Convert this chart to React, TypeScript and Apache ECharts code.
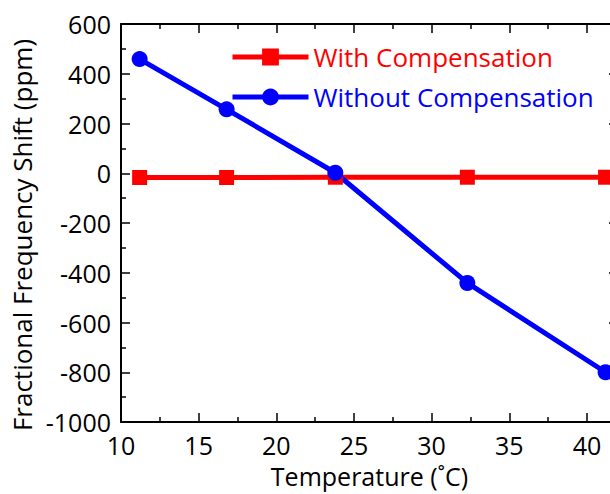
import React, { useEffect, useRef } from "react";
import * as echarts from "echarts";

const temperatures = [11.2, 16.8, 23.8, 32.3, 41.2];
const withCompensation = [-17, -17, -16, -16, -16];
const withoutCompensation = [459, 257, 2, -441, -800];
const seriesNames = ["With Compensation", "Without Compensation"];
const xAxisTitle = "Temperature (˚C)";
const yAxisTitle = "Fractional Frequency Shift (ppm)";

const FONT = "'Open Sans', 'Noto Sans', sans-serif";

export default function App() {
  const ref = useRef<HTMLDivElement>(null);
  useEffect(() => {
    document.body.style.margin = "0";
    if (!ref.current) return;
    const chart = echarts.init(ref.current, null, { renderer: "svg" });
    const axisCommon = {
      axisLine: { show: true, onZero: false, lineStyle: { color: "#000", width: 2 } },
      axisTick: { show: true, inside: true, length: 9, lineStyle: { color: "#000", width: 1.5 } },
      minorTick: { show: true, splitNumber: 2, length: 5, lineStyle: { color: "#000", width: 1.5 } },
      splitLine: { show: false },
    };
    chart.setOption({
      animation: false,
      backgroundColor: "#fff",
      textStyle: { fontFamily: FONT },
      grid: { left: 121, top: 24, width: 497, height: 401 },
      legend: {
        left: 230,
        top: 42,
        padding: 0,
        orient: "vertical",
        itemWidth: 76,
        itemHeight: 21,
        itemGap: 10,
        lineStyle: { width: 5 },
        data: seriesNames.map((n, i) => ({
          name: n,
          textStyle: { color: i === 0 ? "#ff0000" : "#0000ff" },
        })),
        textStyle: { fontSize: 26, lineHeight: 30, fontFamily: FONT },
      },
      xAxis: [
        {
          type: "value",
          min: 10,
          max: 42,
          interval: 5,
          position: "bottom",
          ...axisCommon,
          axisLabel: {
            color: "#000",
            fontSize: 25,
            lineHeight: 26,
            margin: 10,
            showMaxLabel: false,
            fontFamily: FONT,
            formatter: (v: number) => String(v),
          },
          name: xAxisTitle,
          nameLocation: "middle",
          nameGap: 41,
          nameTextStyle: { color: "#000", fontSize: 25, lineHeight: 26, fontFamily: FONT },
        },
        {
          type: "value",
          min: 10,
          max: 42,
          interval: 5,
          position: "top",
          ...axisCommon,
          axisLabel: { show: false },
        },
      ],
      yAxis: [
        {
          type: "value",
          min: -1000,
          max: 600,
          interval: 200,
          position: "left",
          ...axisCommon,
          axisLabel: {
            color: "#000",
            fontSize: 25,
            margin: 10,
            fontFamily: FONT,
            formatter: (v: number) => String(v),
          },
          name: yAxisTitle,
          nameLocation: "middle",
          nameGap: 76,
          nameTextStyle: { color: "#000", fontSize: 26, fontFamily: FONT, padding: [0, 24, 0, 0] },
        },
        {
          type: "value",
          min: -1000,
          max: 600,
          interval: 200,
          position: "right",
          ...axisCommon,
          axisLabel: { show: false },
        },
      ],
      series: [
        {
          name: seriesNames[0],
          type: "line",
          data: temperatures.map((t, i) => [t, withCompensation[i]]),
          symbol: "rect",
          symbolSize: 15,
          itemStyle: { color: "#ff0000" },
          lineStyle: { color: "#ff0000", width: 5 },
        },
        {
          name: seriesNames[1],
          type: "line",
          data: temperatures.map((t, i) => [t, withoutCompensation[i]]),
          symbol: "circle",
          symbolSize: 16,
          itemStyle: { color: "#0000ff" },
          lineStyle: { color: "#0000ff", width: 5 },
        },
      ],
    });
    return () => chart.dispose();
  }, []);
  return (
    <div style={{ width: 610, height: 494, overflow: "hidden", position: "relative" }}>
      <div ref={ref} style={{ width: 640, height: 494 }} />
    </div>
  );
}
